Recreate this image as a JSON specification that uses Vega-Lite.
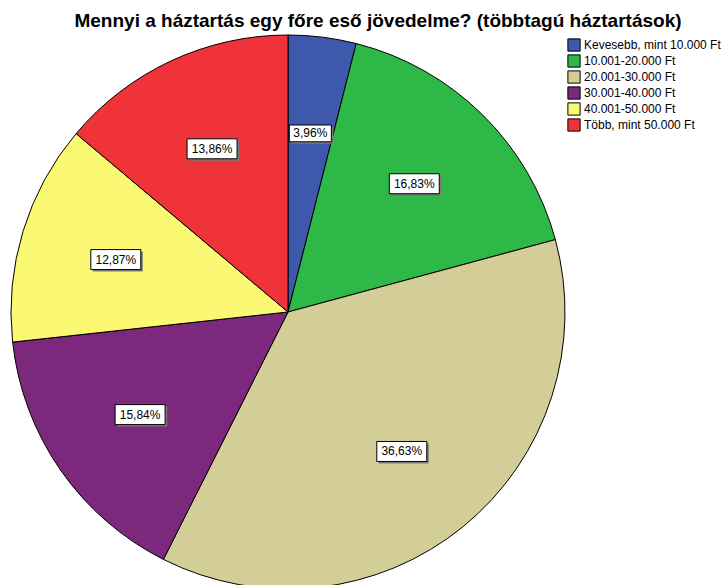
{
  "$schema": "https://vega.github.io/schema/vega-lite/v6.json",
  "autosize": {"type": "none"},
  "padding": {"left": 0, "top": 36, "right": 147, "bottom": 0},
  "width": 576,
  "height": 552,
  "background": "white",
  "title": {
    "text": "Mennyi a háztartás egy főre eső jövedelme? (többtagú háztartások)",
    "anchor": "middle",
    "frame": "group",
    "dx": 90,
    "offset": 2,
    "font": "Liberation Sans",
    "fontSize": 19,
    "fontWeight": "bold",
    "color": "black"
  },
  "data": {
    "values": [
      {"cat": "Kevesebb, mint 10.000 Ft", "value": 3.96, "label": "3,96%", "order": 1},
      {"cat": "10.001-20.000 Ft", "value": 16.83, "label": "16,83%", "order": 2},
      {"cat": "20.001-30.000 Ft", "value": 36.63, "label": "36,63%", "order": 3},
      {"cat": "30.001-40.000 Ft", "value": 15.84, "label": "15,84%", "order": 4},
      {"cat": "40.001-50.000 Ft", "value": 12.87, "label": "12,87%", "order": 5},
      {"cat": "Több, mint 50.000 Ft", "value": 13.86, "label": "13,86%", "order": 6}
    ]
  },
  "transform": [
    {"joinaggregate": [{"op": "sum", "field": "value", "as": "total"}]},
    {"window": [{"op": "sum", "field": "value", "as": "cum"}], "sort": [{"field": "order"}], "frame": [null, 0]},
    {"calculate": "2*PI*(datum.cum - datum.value/2)/datum.total", "as": "ang"},
    {"calculate": "180*sin(datum.ang)", "as": "lx"},
    {"calculate": "180*cos(datum.ang)", "as": "ly"},
    {"calculate": "pow(8*length(datum.label)+2,2)", "as": "bs"}
  ],
  "layer": [
    {
      "mark": {"type": "arc", "radius": 277, "stroke": "black", "strokeWidth": 1},
      "encoding": {
        "theta": {"field": "value", "type": "quantitative", "stack": true},
        "order": {"field": "order", "type": "quantitative"},
        "color": {
          "field": "cat",
          "type": "nominal",
          "sort": ["Kevesebb, mint 10.000 Ft", "10.001-20.000 Ft", "20.001-30.000 Ft", "30.001-40.000 Ft", "40.001-50.000 Ft", "Több, mint 50.000 Ft"],
          "scale": {
            "domain": ["Kevesebb, mint 10.000 Ft", "10.001-20.000 Ft", "20.001-30.000 Ft", "30.001-40.000 Ft", "40.001-50.000 Ft", "Több, mint 50.000 Ft"],
            "range": ["#3E58AC", "#2EB848", "#D3CE97", "#7C287D", "#FBF873", "#EF3338"]
          },
          "legend": {
            "title": null,
            "orient": "none",
            "legendX": 567,
            "legendY": 2,
            "symbolType": "square",
            "symbolSize": 150,
            "symbolStrokeColor": "black",
            "symbolStrokeWidth": 1,
            "labelFont": "Liberation Sans",
            "labelFontSize": 12,
            "labelColor": "black",
            "labelOffset": 3,
            "rowPadding": -2
          }
        }
      }
    },
    {
      "mark": {"type": "point", "shape": "M-1,-0.4H1V0.4H-1Z", "filled": true, "fill": "#7a7a7a", "opacity": 1, "xOffset": 2, "yOffset": 2},
      "encoding": {
        "x": {"field": "lx", "type": "quantitative", "scale": {"domain": [-288, 288], "nice": false, "zero": false}, "axis": null},
        "y": {"field": "ly", "type": "quantitative", "scale": {"domain": [-276, 276], "nice": false, "zero": false}, "axis": null},
        "size": {"field": "bs", "type": "quantitative", "scale": null}
      }
    },
    {
      "mark": {"type": "point", "shape": "M-1,-0.4H1V0.4H-1Z", "filled": true, "fill": "white", "stroke": "black", "strokeWidth": 1, "opacity": 1},
      "encoding": {
        "x": {"field": "lx", "type": "quantitative", "scale": {"domain": [-288, 288], "nice": false, "zero": false}, "axis": null},
        "y": {"field": "ly", "type": "quantitative", "scale": {"domain": [-276, 276], "nice": false, "zero": false}, "axis": null},
        "size": {"field": "bs", "type": "quantitative", "scale": null}
      }
    },
    {
      "mark": {"type": "text", "font": "Liberation Sans", "fontSize": 12, "color": "black", "align": "center", "baseline": "middle"},
      "encoding": {
        "x": {"field": "lx", "type": "quantitative", "scale": {"domain": [-288, 288], "nice": false, "zero": false}, "axis": null},
        "y": {"field": "ly", "type": "quantitative", "scale": {"domain": [-276, 276], "nice": false, "zero": false}, "axis": null},
        "text": {"field": "label", "type": "nominal"}
      }
    }
  ],
  "config": {"view": {"stroke": null}}
}
